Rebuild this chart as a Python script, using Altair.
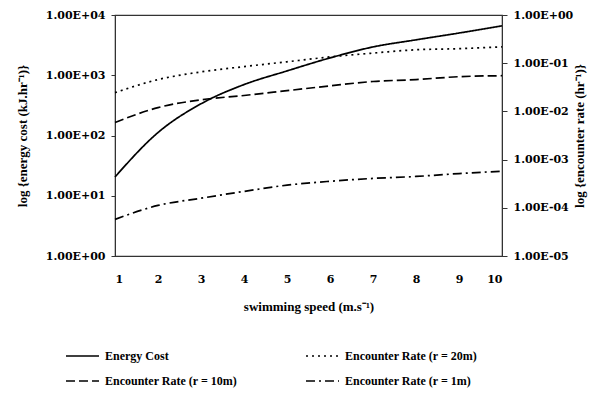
import altair as alt
import pandas as pd

# swimming speed (m/s)
speed = [1, 2, 3, 4, 5, 6, 7, 8, 9, 10]

# energy cost (kJ/hr), left axis
energy_cost = [20.5, 112, 336, 700, 1180, 1940, 2950, 3870, 5020, 6600]

# encounter rates (per hr), right axis
enc_20m = [0.0245, 0.0457, 0.066, 0.085, 0.107, 0.135, 0.162, 0.19, 0.2, 0.219]
enc_10m = [0.0059, 0.012, 0.0174, 0.0214, 0.0269, 0.0339, 0.0417, 0.0457, 0.0525, 0.055]
enc_1m = [5.75e-5, 1.12e-4, 1.58e-4, 2.19e-4, 2.95e-4, 3.55e-4, 4.07e-4, 4.47e-4, 5.13e-4, 5.75e-4]

# legend fills column by column: left column first, then right column
series_names = [
    "Energy Cost",
    "Encounter Rate (r = 10m)",
    "Encounter Rate (r = 20m)",
    "Encounter Rate (r = 1m)",
]
series_values = [energy_cost, enc_10m, enc_20m, enc_1m]
dash_styles = [[1, 0], [9, 4], [2, 4], [9, 4, 2, 4]]

left_ticks = [1, 10, 100, 1000, 10000]
right_ticks = [1e-5, 1e-4, 1e-3, 1e-2, 1e-1, 1]

rows = []
for name, vals in zip(series_names, series_values):
    for s, v in zip(speed, vals):
        rows.append({"speed": s, "value": v, "series": name})
df = pd.DataFrame(rows)

SERIF = "DejaVu Serif"
TEXT = "Liberation Serif"

sci_label = (
    "'1.00E' + (round(log(datum.value)/LN10) < 0 ? '-' : '+') + '0' + "
    "abs(round(log(datum.value)/LN10))"
)

x_enc = alt.X(
    "speed:Q",
    scale=alt.Scale(domain=[1, 10], nice=False),
    axis=alt.Axis(
        values=speed,
        title="swimming speed (m.s\u207b\u00b9)",
        ticks=False,
        domain=False,
        grid=False,
        labelPadding=17,
        titlePadding=16,
        labelFont=SERIF,
        labelFontWeight="bold",
        labelFontSize=11,
        titleFont=TEXT,
        titleFontWeight="bold",
        titleFontSize=13,
    ),
)

dash_enc = alt.StrokeDash(
    "series:N",
    scale=alt.Scale(domain=series_names, range=dash_styles),
    legend=alt.Legend(
        title=None,
        orient="none",
        legendX=-50,
        legendY=334,
        columns=2,
        columnPadding=67,
        rowPadding=11,
        symbolType="stroke",
        symbolSize=1089,
        symbolStrokeWidth=1.6,
        symbolStrokeColor="black",
        clipHeight=14,
        labelFont=TEXT,
        labelFontWeight="bold",
        labelFontSize=12,
        labelColor="black",
        labelOffset=5,
    ),
)

energy = (
    alt.Chart(df)
    .transform_filter(alt.datum.series == "Energy Cost")
    .mark_line(color="black", strokeWidth=1.7, interpolate="monotone")
    .encode(
        x=x_enc,
        y=alt.Y(
            "value:Q",
            scale=alt.Scale(type="log", domain=[1, 10000], nice=False),
            axis=alt.Axis(
                orient="left",
                values=left_ticks,
                labelExpr=sci_label,
                title="log {energy cost (kJ.hr\u207b\u00b9)}",
                grid=False,
                tickSize=4,
                labelPadding=6,
                titlePadding=16,
                domainColor="#333",
                tickColor="#333",
                labelFont=SERIF,
                labelFontWeight="bold",
                labelFontSize=11,
                titleFont=TEXT,
                titleFontWeight="bold",
                titleFontSize=13,
            ),
        ),
        strokeDash=dash_enc,
    )
)

encounter = (
    alt.Chart(df)
    .transform_filter(alt.datum.series != "Energy Cost")
    .mark_line(color="black", strokeWidth=1.7, interpolate="monotone")
    .encode(
        x=x_enc,
        y=alt.Y(
            "value:Q",
            scale=alt.Scale(type="log", domain=[1e-5, 1], nice=False),
            axis=alt.Axis(
                orient="right",
                values=right_ticks,
                labelExpr=sci_label,
                title="log {encounter rate (hr\u207b\u00b9)}",
                titleAngle=270,
                grid=False,
                tickSize=5,
                labelPadding=6,
                titlePadding=14,
                domainColor="#333",
                tickColor="#333",
                labelFont=SERIF,
                labelFontWeight="bold",
                labelFontSize=11,
                titleFont=TEXT,
                titleFontWeight="bold",
                titleFontSize=13,
            ),
        ),
        strokeDash=dash_enc,
    )
)

chart = (
    alt.layer(energy, encounter)
    .resolve_scale(y="independent")
    .properties(
        width=387,
        height=241,
        autosize=alt.AutoSizeParams(type="none"),
        padding={"left": 115, "top": 15, "right": 107, "bottom": 140},
        background="white",
    )
    .configure_view(stroke="#333", strokeWidth=1.2)
)

chart.save("out.html", embed_options={"renderer": "svg", "actions": False})
